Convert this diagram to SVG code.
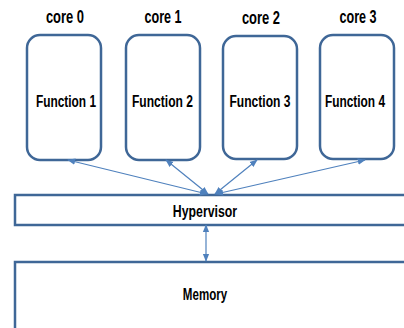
<svg xmlns="http://www.w3.org/2000/svg" width="404" height="328" viewBox="0 0 404 328">
  <style>
    .core { fill: #ffffff; stroke: #3f6797; stroke-width: 2.5; }
    .layer { fill: #ffffff; stroke: #3f6797; stroke-width: 2.5; }
    .lbl { font-family: "Liberation Sans", Arial, sans-serif; font-weight: bold; font-size: 17px; fill: #000000; text-anchor: middle; }
    .head { font-size: 18px; }
    .bar { font-size: 16px; }
    .link { stroke: #4f81bd; stroke-width: 1.2; fill: none; marker-start: url(#head); marker-end: url(#head); }
  </style>
  <defs>
    <marker id="head" viewBox="0 0 10 10" refX="9" refY="5" markerWidth="8" markerHeight="8" markerUnits="userSpaceOnUse" orient="auto-start-reverse">
      <path d="M0,1 L10,5 L0,9 Z" fill="#4f81bd"/>
    </marker>
  </defs>

  <rect width="404" height="328" fill="#ffffff"/>

  <!-- labels are condensed horizontally to a narrow bold look -->
  <g id="core0">
    <text class="lbl head" transform="translate(65,23) scale(0.72,1)">core 0</text>
    <rect class="core" x="27" y="35" width="74" height="125" rx="13"/>
    <text class="lbl" transform="translate(66,107) scale(0.70,1)">Function 1</text>
  </g>
  <g id="core1">
    <text class="lbl head" transform="translate(163,23) scale(0.70,1)">core 1</text>
    <rect class="core" x="126" y="35" width="74" height="125" rx="13"/>
    <text class="lbl" transform="translate(162.5,107) scale(0.71,1)">Function 2</text>
  </g>
  <g id="core2">
    <text class="lbl head" transform="translate(261,24) scale(0.72,1)">core 2</text>
    <rect class="core" x="223" y="36" width="74" height="123" rx="13"/>
    <text class="lbl" transform="translate(260,107) scale(0.71,1)">Function 3</text>
  </g>
  <g id="core3">
    <text class="lbl head" transform="translate(358,23) scale(0.70,1)">core 3</text>
    <rect class="core" x="320" y="35" width="74" height="124" rx="13"/>
    <text class="lbl" transform="translate(355,107) scale(0.70,1)">Function 4</text>
  </g>

  <g id="hypervisor">
    <rect class="layer" x="15" y="195" width="400" height="30"/>
    <text class="lbl bar" transform="translate(205,217) scale(0.77,1)">Hypervisor</text>
  </g>

  <g id="memory">
    <rect class="layer" x="15" y="262" width="400" height="80"/>
    <text class="lbl" transform="translate(205,299.5) scale(0.68,1)">Memory</text>
  </g>

  <g id="connectors">
    <line class="link" x1="68" y1="160" x2="207" y2="194"/>
    <line class="link" x1="166" y1="160" x2="208" y2="194"/>
    <line class="link" x1="257" y1="160" x2="215" y2="194"/>
    <line class="link" x1="365" y1="160" x2="216" y2="194"/>
    <line class="link" x1="206" y1="225" x2="206" y2="261"/>
  </g>
</svg>
